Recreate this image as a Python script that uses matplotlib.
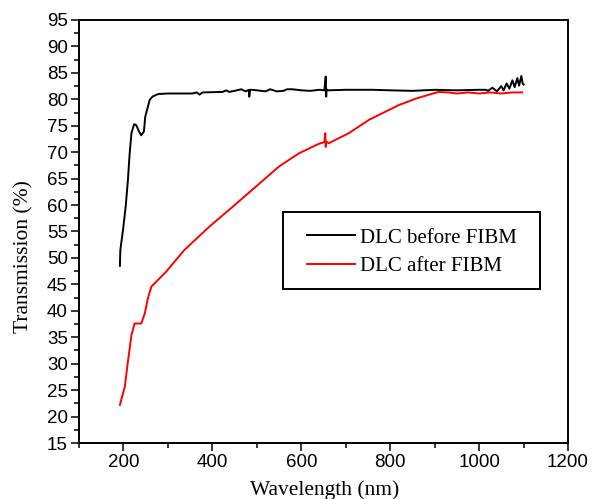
import numpy as np
import matplotlib
matplotlib.use("Agg")
import matplotlib.pyplot as plt
from matplotlib.ticker import MultipleLocator
from matplotlib.patches import Rectangle

before_wl = [192, 193, 199, 205, 210, 214, 218, 224, 229, 235, 240, 246, 249, 255, 259, 265, 278,
             300, 355, 365, 371, 378, 423, 431, 438, 450, 465, 475, 482, 483, 485, 490, 520, 530,
             545, 560, 568, 580, 600, 620, 640, 652, 655, 656, 657, 660, 700, 760, 800, 850, 900,
             950, 1000, 1016, 1020, 1030, 1040, 1050, 1055, 1062, 1068, 1075, 1080, 1086, 1090,
             1095, 1098, 1100]
before_t = [48.5, 51.5, 55.3, 59.7, 64.7, 69.8, 73.6, 75.3, 75.1, 73.9, 73.2, 73.9, 76.7, 78.6,
            79.9, 80.5, 81.0, 81.1, 81.1, 81.3, 80.9, 81.3, 81.4, 81.7, 81.4, 81.6, 81.9, 81.5,
            81.8, 80.5, 81.8, 81.8, 81.5, 81.9, 81.5, 81.6, 81.9, 81.9, 81.7, 81.6, 81.8, 81.7,
            84.3, 80.5, 81.9, 81.7, 81.8, 81.8, 81.7, 81.6, 81.8, 81.7, 81.8, 81.8, 81.6, 82.2,
            81.5, 82.5, 81.7, 83.0, 82.0, 83.6, 82.3, 84.0, 82.6, 84.4, 83.0, 82.8]

after_wl = [192, 203, 210, 218, 225, 240, 248, 255, 263, 296, 337, 393, 446, 498, 550, 595, 640,
            652, 654, 655, 656, 662, 707, 752, 819, 860, 909, 930, 950, 975, 1000, 1025, 1050,
            1075, 1097]
after_t = [22.2, 25.6, 30.4, 35.4, 37.6, 37.6, 39.5, 42.4, 44.6, 47.4, 51.5, 55.9, 59.7, 63.5,
           67.3, 69.8, 71.6, 71.9, 73.6, 71.0, 72.0, 71.7, 73.6, 76.1, 78.9, 80.2, 81.4, 81.3,
           81.1, 81.3, 81.1, 81.3, 81.1, 81.3, 81.3]

x_ticks = [200, 400, 600, 800, 1000, 1200]
y_ticks = list(range(15, 100, 5))

serif = "Liberation Serif"
sans = "Liberation Sans"

fig = plt.figure(figsize=(5.92, 4.99), dpi=100)
ax = fig.add_axes([79 / 592, 56 / 499, 489 / 592, 423 / 499])

ax.plot(before_wl, before_t, color="black", lw=1.4, label="DLC before FIBM")
ax.plot(after_wl, after_t, color="red", lw=1.4, label="DLC after FIBM")

ax.set_xlim(100, 1200)
ax.set_ylim(15, 95)
ax.set_xticks(x_ticks)
ax.set_yticks(y_ticks)
ax.xaxis.set_minor_locator(MultipleLocator(100))
ax.yaxis.set_minor_locator(MultipleLocator(2.5))
ax.tick_params(which="major", direction="out", length=6, width=1.1, labelsize=13.5, pad=2)
ax.tick_params(which="minor", direction="out", length=3.5, width=1.1)
for lab in ax.get_xticklabels() + ax.get_yticklabels():
    lab.set_fontfamily(sans)
for sp in ax.spines.values():
    sp.set_linewidth(1.4)

ax.set_xlabel("Wavelength (nm)", fontfamily=serif, fontsize=15.5)
ax.set_ylabel("Transmission (%)", fontfamily=serif, fontsize=15.5)
ax.xaxis.set_label_coords(0.503, -0.088)
ax.yaxis.set_label_coords(-0.094, 0.441)

# legend entries without frame, box drawn separately (padding is uneven in the original)
leg = ax.legend(loc="center left", bbox_to_anchor=(0.466, 0.451), prop={"family": serif, "size": 15},
                frameon=False, handlelength=2.3, handletextpad=0.25, borderpad=0, borderaxespad=0,
                labelspacing=0.45)
ax.add_patch(Rectangle((0.417, 0.364), 0.526, 0.182, transform=ax.transAxes, fill=False,
                       edgecolor="black", lw=1.4, zorder=5))

fig.savefig("out.png", dpi=100)
